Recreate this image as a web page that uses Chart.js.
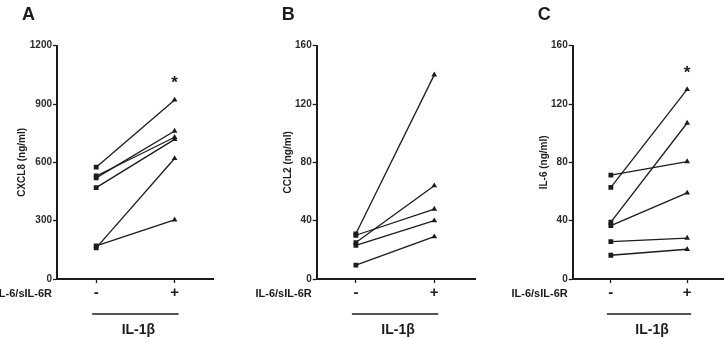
<!DOCTYPE html>
<html><head><meta charset="utf-8">
<script src="https://cdn.jsdelivr.net/npm/chart.js@4.4.1/dist/chart.umd.min.js"></script>
<style>
html,body{margin:0;padding:0;background:#fff;width:727px;height:338px;overflow:hidden}
canvas{position:absolute;top:0}
</style></head><body>
<canvas id="cA" width="240" height="338" style="left:0"></canvas>
<canvas id="cB" width="240" height="338" style="left:240px"></canvas>
<canvas id="cC" width="240" height="338" style="left:487px"></canvas>
<script>
// ---- data ----
const treatments = ['-', '+'];
const groupLabel = 'IL-6/sIL-6R';
const bottomLabel = 'IL-1β';

const cxcl8Minus = [575, 520, 530, 470, 170, 160];
const cxcl8Plus  = [921, 761, 729, 718, 304, 620];
const cxcl8Ticks = [0, 300, 600, 900, 1200];
const cxcl8Star  = 1027;

const ccl2Minus = [31, 30, 25, 23, 9.5];
const ccl2Plus  = [140, 48, 64, 40, 29];
const ccl2Ticks = [0, 40, 80, 120, 160];

const il6Minus = [71.3, 62.9, 39, 36.6, 25.6, 16.3];
const il6Plus  = [80.5, 130, 107, 59, 28, 20.4];
const il6Ticks = [0, 40, 80, 120, 160];
const il6Star  = 144;

const INK = '#1c1c1c';
const FONT = '"Liberation Sans", Arial, sans-serif';

const panelText = {
  id: 'panelText',
  afterDraw(chart, args, o) {
    const ctx = chart.ctx, ca = chart.chartArea;
    const xs = chart.scales.x, ys = chart.scales.y;
    ctx.save();
    ctx.fillStyle = INK; ctx.strokeStyle = INK;
    // panel letter
    ctx.font = 'bold 18px ' + FONT;
    ctx.textAlign = 'left'; ctx.textBaseline = 'middle';
    ctx.fillText(o.letter, ca.left - 35, 15);
    // y title
    ctx.save();
    ctx.translate(ca.left - o.titleOffset, (ca.top + ca.bottom) / 2);
    ctx.rotate(-Math.PI / 2);
    ctx.font = 'bold 10px ' + FONT;
    ctx.textAlign = 'center'; ctx.textBaseline = 'middle';
    ctx.fillText(o.title, 0, 0);
    ctx.restore();
    // group label
    ctx.font = 'bold 11px ' + FONT;
    ctx.textAlign = 'right'; ctx.textBaseline = 'middle';
    ctx.fillText(groupLabel, ca.left - 5, 294);
    // underline bar
    const x0 = xs.getPixelForValue(0), x1 = xs.getPixelForValue(1);
    ctx.lineWidth = 1.6;
    ctx.beginPath(); ctx.moveTo(x0 - 4, 314); ctx.lineTo(x1 + 4, 314); ctx.stroke();
    ctx.font = 'bold 14px ' + FONT;
    ctx.textAlign = 'center';
    ctx.fillText(bottomLabel, (x0 + x1) / 2 + 3, 330);
    // significance star
    if (o.star != null) {
      ctx.font = 'bold 17px ' + FONT;
      ctx.textBaseline = 'middle';
      ctx.fillText('*', x1, ys.getPixelForValue(o.star) + 4);
    }
    ctx.restore();
  }
};

function makePanel(id, minus, plus, ticks, opts) {
  const datasets = minus.map((m, i) => ({
    data: [{x: 0, y: m}, {x: 1, y: plus[i]}],
    borderColor: INK, backgroundColor: INK, borderWidth: 1.3,
    pointStyle: ['rect', 'triangle'], pointRadius: [3.4, 3.3],
    pointBorderWidth: 0, showLine: true, tension: 0
  }));
  new Chart(document.getElementById(id), {
    type: 'scatter',
    data: { datasets },
    plugins: [panelText],
    options: {
      responsive: false, animation: false,
      layout: { padding: { top: 45.7, right: opts.padRight, left: 0, bottom: 0 } },
      plugins: { legend: {display: false}, tooltip: {enabled: false}, panelText: opts.text },
      scales: {
        x: {
          type: 'linear', min: -0.5, max: opts.xmax,
          afterBuildTicks: s => { s.ticks = treatments.map((t, i) => ({value: i})); },
          afterFit: s => { s.height = 59; },
          grid: { display: true, drawOnChartArea: false, tickLength: 4, tickColor: INK, tickWidth: 1.3 },
          border: { color: INK, width: 2 },
          ticks: { callback: v => treatments[v], font: {family: FONT, size: 15, weight: 'bold'}, color: INK, padding: 1, maxRotation: 0 }
        },
        y: {
          min: 0, max: ticks[ticks.length - 1],
          afterBuildTicks: s => { s.ticks = ticks.map(v => ({value: v})); },
          afterFit: s => { s.width = opts.yWidth; },
          grid: { display: true, drawOnChartArea: false, tickLength: 4, tickColor: INK, tickWidth: 1.3 },
          border: { color: INK, width: 2 },
          ticks: { callback: v => String(v), font: {family: FONT, size: 10, weight: 'bold'}, color: '#2a2a2a', padding: 1 }
        }
      }
    }
  });
}

makePanel('cA', cxcl8Minus, cxcl8Plus, cxcl8Ticks,
  { yWidth: 57, padRight: 27, xmax: 1.49, text: {letter: 'A', title: 'CXCL8 (ng/ml)', titleOffset: 34.5, star: cxcl8Star} });
makePanel('cB', ccl2Minus, ccl2Plus, ccl2Ticks,
  { yWidth: 76.7, padRight: 5, xmax: 1.52, text: {letter: 'B', title: 'CCL2 (ng/ml)', titleOffset: 28.5, star: null} });
makePanel('cC', il6Minus, il6Plus, il6Ticks,
  { yWidth: 85.7, padRight: 0, xmax: 1.47, text: {letter: 'C', title: 'IL-6 (ng/ml)', titleOffset: 28.7, star: il6Star} });
</script>
</body></html>
